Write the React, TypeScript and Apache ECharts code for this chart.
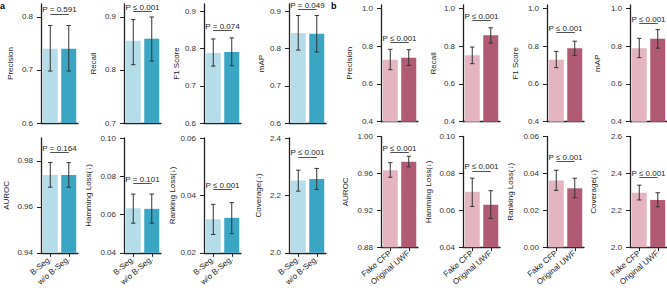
import React, { useEffect, useRef } from "react";
import * as echarts from "echarts";

// ---------- data ----------
const aCategories = ["B-Seg.", "w/o B-Seg."];
const bCategories = ["Fake CFP", "Original UWF"];
const metricNames = [
  "Precision", "Recall", "F1 Score", "mAP",
  "AUROC", "Hamming Loss(↓)", "Ranking Loss(↓)", "Coverage(↓)",
];

const aMeans = [
  [0.740, 0.740], [0.855, 0.859], [0.788, 0.791], [0.842, 0.840],
  [0.9739, 0.9739], [0.0633, 0.0630], [0.0317, 0.0322], [2.252, 2.257],
];
const aLower = [
  [0.698, 0.698], [0.810, 0.817], [0.753, 0.754], [0.796, 0.791],
  [0.9686, 0.9686], [0.0555, 0.0555], [0.0264, 0.0267], [2.215, 2.221],
];
const aUpper = [
  [0.784, 0.784], [0.895, 0.900], [0.826, 0.829], [0.889, 0.889],
  [0.9793, 0.9793], [0.0707, 0.0707], [0.0369, 0.0375], [2.288, 2.294],
];
const aPText = [
  "P = 0.591", "P ≤ 0.001", "P = 0.074", "P = 0.049",
  "P = 0.164", "P = 0.101", "P ≤ 0.001", "P ≤ 0.001",
];
const aPLevel = [0.8057, 0.911, 0.849, 0.905, 0.9836, 0.0762, 0.0421, 2.334];
const aMin = [0.6, 0.7, 0.6, 0.6, 0.94, 0.04, 0.02, 2.0];
const aMax = [0.8245, 0.9245, 0.92, 0.92, 0.99, 0.10, 0.06, 2.4];
const aTicks = [
  [0.6, 0.7, 0.8], [0.7, 0.8, 0.9], [0.6, 0.7, 0.8, 0.9], [0.6, 0.7, 0.8, 0.9],
  [0.94, 0.96, 0.98], [0.04, 0.06, 0.08, 0.10], [0.02, 0.04, 0.06], [2.0, 2.2, 2.4],
];

const bMeans = [
  [0.728, 0.739], [0.751, 0.857], [0.728, 0.789], [0.789, 0.839],
  [0.9635, 0.9727], [0.0700, 0.0630], [0.0361, 0.0319], [2.295, 2.256],
];
const bLower = [
  [0.675, 0.698], [0.707, 0.816], [0.686, 0.751], [0.739, 0.789],
  [0.9558, 0.9671], [0.0621, 0.0556], [0.0308, 0.0268], [2.256, 2.219],
];
const bUpper = [
  [0.783, 0.781], [0.795, 0.897], [0.772, 0.826], [0.841, 0.887],
  [0.9716, 0.9786], [0.0774, 0.0706], [0.0417, 0.0374], [2.336, 2.295],
];
const bPText = [
  "P ≤ 0.001", "P ≤ 0.001", "P ≤ 0.001", "P ≤ 0.001",
  "P ≤ 0.001", "P ≤ 0.001", "P ≤ 0.001", "P ≤ 0.001",
];
const bPLevel = [0.818, 0.936, 0.871, 0.922, 0.9829, 0.0814, 0.0467, 2.379];
const bMin = [0.4, 0.4, 0.4, 0.4, 0.88, 0.04, 0.0, 2.0];
const bMax = [1.0175, 1.0175, 1.0175, 1.0175, 1.0, 0.10, 0.06, 2.6];
const bTicks = [
  [0.4, 0.6, 0.8, 1.0], [0.4, 0.6, 0.8, 1.0], [0.4, 0.6, 0.8, 1.0], [0.4, 0.6, 0.8, 1.0],
  [0.88, 0.92, 0.96, 1.0], [0.04, 0.06, 0.08, 0.10], [0.0, 0.02, 0.04, 0.06], [2.0, 2.2, 2.4, 2.6],
];

const tickDecimals = [1, 1, 1, 1, 2, 2, 2, 1];

// ---------- layout / style ----------
const FONT = "'Liberation Sans', Arial, Helvetica, sans-serif";
const aColors = ["#b4dce9", "#3aa6c4"];
const bColors = ["#e4b5c0", "#b05a73"];
const colLeftA = [41, 124, 204, 289];
const colLeftB = [381, 463, 547, 630];
const PANEL_W = 37;
const rowsA = [{ top: 4, height: 119 }, { top: 138, height: 117 }];
const rowsB = [{ top: 5, height: 116.7 }, { top: 136.5, height: 113.5 }];
const nameGapA = [27, 27, 23, 23, 31, 32, 25, 27];
const nameGapB = [28, 26, 28, 29, 32, 31, 33, 33];

function buildOption() {
  const grid: any[] = [];
  const xAxis: any[] = [];
  const yAxis: any[] = [];
  const series: any[] = [];

  const panels = [
    { cats: aCategories, means: aMeans, lo: aLower, hi: aUpper, pt: aPText, pl: aPLevel, min: aMin, max: aMax, ticks: aTicks, colors: aColors, cols: colLeftA, rows: rowsA, gaps: nameGapA },
    { cats: bCategories, means: bMeans, lo: bLower, hi: bUpper, pt: bPText, pl: bPLevel, min: bMin, max: bMax, ticks: bTicks, colors: bColors, cols: colLeftB, rows: rowsB, gaps: nameGapB },
  ];

  panels.forEach((p) => {
    for (let m = 0; m < 8; m++) {
      const idx = grid.length;
      const row = m < 4 ? 0 : 1;
      const col = m % 4;
      grid.push({
        left: p.cols[col],
        top: p.rows[row].top,
        width: PANEL_W,
        height: p.rows[row].height,
        containLabel: false,
      });
      const dec = tickDecimals[m];
      xAxis.push({
        type: "category",
        gridIndex: idx,
        data: p.cats,
        axisLine: { show: true, lineStyle: { color: "#222", width: 1.3 } },
        axisTick: { show: row === 1, alignWithLabel: true, length: 4, lineStyle: { color: "#222", width: 1 } },
        axisLabel: {
          show: row === 1,
          rotate: 40,
          fontSize: 8,
          color: "#222",
          fontFamily: FONT,
          margin: 5,
          interval: 0,
        },
        splitLine: { show: false },
      });
      yAxis.push({
        type: "value",
        gridIndex: idx,
        min: p.min[m],
        max: p.max[m],
        name: metricNames[m],
        nameLocation: "middle",
        nameGap: p.gaps[m],
        nameRotate: 90,
        nameTextStyle: { fontSize: 8, color: "#222", fontFamily: FONT },
        axisLine: { show: true, lineStyle: { color: "#222", width: 1.3 } },
        axisTick: { show: true, length: 4, customValues: p.ticks[m], lineStyle: { color: "#222", width: 1 } },
        axisLabel: {
          show: true,
          customValues: p.ticks[m],
          fontSize: 8,
          color: "#333",
          fontFamily: FONT,
          margin: 8,
          formatter: (v: number) => v.toFixed(dec),
        },
        splitLine: { show: false },
      });
      series.push({
        type: "bar",
        xAxisIndex: idx,
        yAxisIndex: idx,
        barWidth: 15,
        data: p.means[m].map((v, i) => ({ value: v, itemStyle: { color: p.colors[i] } })),
        markLine: {
          silent: true,
          symbol: "none",
          animation: false,
          lineStyle: { color: "#222", width: 0.8, type: "solid" },
          label: {
            show: true,
            position: "middle",
            formatter: p.pt[m],
            fontSize: 8,
            color: "#222",
            fontFamily: FONT,
            distance: 0,
          },
          data: [[{ coord: [p.cats[0], p.pl[m]] }, { coord: [p.cats[1], p.pl[m]] }]],
        },
      });
      series.push({
        type: "custom",
        xAxisIndex: idx,
        yAxisIndex: idx,
        z: 5,
        encode: { x: 0, y: [1, 2] },
        data: p.cats.map((c, i) => [i, p.lo[m][i], p.hi[m][i]]),
        renderItem: (params: any, api: any) => {
          const x = api.value(0);
          const pLo = api.coord([x, api.value(1)]);
          const pHi = api.coord([x, api.value(2)]);
          const cap = 2.2;
          const st = { stroke: "#333", lineWidth: 1 };
          return {
            type: "group",
            children: [
              { type: "line", shape: { x1: pLo[0], y1: pLo[1], x2: pHi[0], y2: pHi[1] }, style: st },
              { type: "line", shape: { x1: pLo[0] - cap, y1: pLo[1], x2: pLo[0] + cap, y2: pLo[1] }, style: st },
              { type: "line", shape: { x1: pHi[0] - cap, y1: pHi[1], x2: pHi[0] + cap, y2: pHi[1] }, style: st },
            ],
          };
        },
      });
    }
  });

  return {
    animation: false,
    backgroundColor: "#fff",
    textStyle: { fontFamily: FONT },
    grid,
    xAxis,
    yAxis,
    series,
    graphic: [
      { type: "text", left: 0, top: 1, style: { text: "a", fontSize: 9, fontWeight: "bold", fill: "#000", fontFamily: FONT } },
      { type: "text", left: 331, top: 1, style: { text: "b", fontSize: 9, fontWeight: "bold", fill: "#000", fontFamily: FONT } },
    ],
  };
}

export default function App() {
  const ref = useRef<HTMLDivElement>(null);
  useEffect(() => {
    if (!ref.current) return;
    const chart = echarts.init(ref.current, undefined, { renderer: "svg" });
    chart.setOption(buildOption() as any);
    return () => chart.dispose();
  }, []);
  return (
    <div
      ref={ref}
      style={{ position: "fixed", left: 0, top: 0, width: 667, height: 288, background: "#fff" }}
    />
  );
}
